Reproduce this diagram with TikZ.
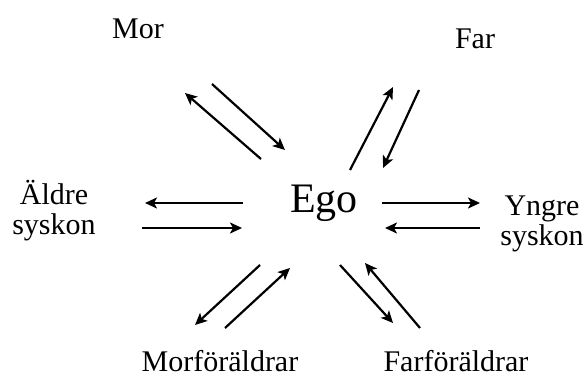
\documentclass[tikz,border=0pt]{standalone}
\usepackage{fontspec}
\setmainfont{Liberation Serif}
\usetikzlibrary{arrows.meta}
\begin{document}
\begin{tikzpicture}[x=1pt,y=-1pt,
  lbl/.style={inner sep=0pt,font=\fontsize{30}{30}\selectfont,align=center},
  egostyle/.style={inner sep=0pt,font=\fontsize{42}{42}\selectfont},
  rel/.style={line width=2.2pt,-{Stealth[length=12pt,width=11pt,inset=3pt]}}]
\useasboundingbox (0,0) rectangle (588,379);
% labels
\node[lbl,anchor=base] (mor) at (138,39) {Mor};
\node[lbl,anchor=base] (far) at (475,49) {Far};
\node[egostyle,anchor=base] (ego) at (324,213) {Ego};
\node[lbl] (aldre) at (54,211) {Äldre\\syskon};
\node[lbl] (yngre) at (542,224) {Yngre\\syskon};
\node[lbl,anchor=base] (morf) at (220,371) {Morföräldrar};
\node[lbl,anchor=base] (farf) at (456,371) {Farföräldrar};
% arrow end points
\coordinate (a1s) at (261,159); \coordinate (a1e) at (185,93);
\coordinate (a2s) at (212,84);  \coordinate (a2e) at (285,150);
\coordinate (a3s) at (350,170); \coordinate (a3e) at (393,87);
\coordinate (a4s) at (419,90);  \coordinate (a4e) at (383,168);
\coordinate (a5s) at (243,203); \coordinate (a5e) at (145,203);
\coordinate (a6s) at (142,228); \coordinate (a6e) at (242,228);
\coordinate (a7s) at (382,203); \coordinate (a7e) at (480,203);
\coordinate (a8s) at (480,228); \coordinate (a8e) at (385,228);
\coordinate (a9s) at (260,265); \coordinate (a9e) at (195,325);
\coordinate (a10s) at (225,328); \coordinate (a10e) at (290,268);
\coordinate (a11s) at (340,265); \coordinate (a11e) at (393,323);
\coordinate (a12s) at (420,328); \coordinate (a12e) at (365,263);
\foreach \i in {1,...,12} \draw[rel] (a\i s) -- (a\i e);
\end{tikzpicture}
\end{document}
